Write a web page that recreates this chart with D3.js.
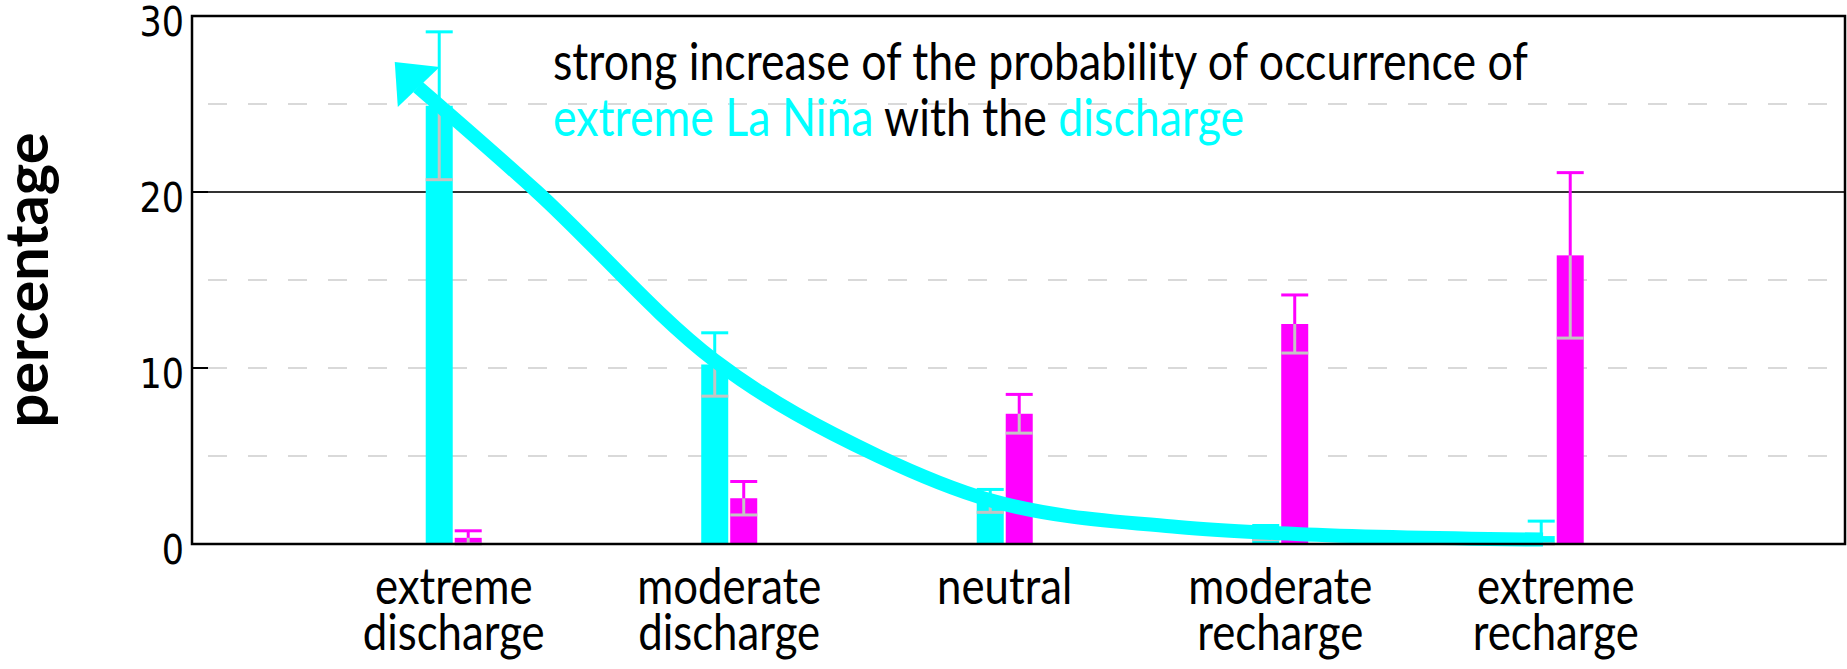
<html>
<head>
  <style>
    body { margin: 0; background: #fff; }
    text { font-family: Lato, "Open Sans", sans-serif; }
  </style>
  <script type="text/javascript" src="https://d3js.org/d3.v7.min.js"></script>
</head>
<body>
<script>
  // categories and values
  var categories = [["extreme", "discharge"], ["moderate", "discharge"], ["neutral"], ["moderate", "recharge"], ["extreme", "recharge"]];
  var laNina = [24.9, 10.2, 2.45, 0.65, 0.45];
  var laNinaErr = [4.2, 1.8, 0.65, 0.4, 0.85];
  var elNino = [0.35, 2.6, 7.4, 12.5, 16.4];
  var elNinoErr = [0.4, 0.95, 1.1, 1.65, 4.7];
  var yTicks = [0, 10, 20, 30];
  var dashedGrid = [5, 10, 15, 25];
  var solidGrid = [20];
  // arrow annotation in (category index, percentage) space
  var arrowShaft = [[-0.13, 25.97], [0.299, 20.06], [0.945, 10.45], [1.54, 5.0], [1.944, 2.5],
                    [2.629, 0.966], [3.057, 0.568], [3.954, 0.25]];
  var arrowHead = [[-0.214, 27.39], [-0.051, 27.1], [-0.203, 24.83]];
  var titleLine1 = "strong increase of the probability of occurrence of";
  var titleLine2 = [["extreme La Niña", "#00ffff"], [" with the ", "#000"], ["discharge", "#00ffff"]];

  var cyan = "#00ffff", magenta = "#ff00ff", errGray = "#c4c4c4";
  var width = 1847, height = 669;
  var plotLeft = 192, plotRight = 1845, plotTop = 16, plotBottom = 544;
  var barW = 27;
  var vs = 1.15;

  var x = d3.scaleLinear().domain([-0.95, 5.05]).range([plotLeft, plotRight]);
  var y = d3.scaleLinear().domain([0, 30]).range([plotBottom, plotTop]);

  var svg = d3.select("body").append("svg")
      .attr("width", width)
      .attr("height", height);

  svg.selectAll(".dash").data(dashedGrid).enter().append("line")
      .attr("x1", plotLeft + 16).attr("x2", plotRight)
      .attr("y1", d => y(d)).attr("y2", d => y(d))
      .attr("stroke", "#d9d9d9").attr("stroke-width", 2)
      .attr("stroke-dasharray", "19,21");

  svg.selectAll(".solid").data(solidGrid).enter().append("line")
      .attr("x1", plotLeft).attr("x2", plotRight)
      .attr("y1", d => y(d)).attr("y2", d => y(d))
      .attr("stroke", "#333").attr("stroke-width", 2);

  svg.selectAll(".ytick").data(yTicks).enter().append("line")
      .attr("x1", plotLeft).attr("x2", plotLeft + 16)
      .attr("y1", d => y(d)).attr("y2", d => y(d))
      .attr("stroke", "#000").attr("stroke-width", 2);

  function series(values, errs, color, dx) {
    var g = svg.append("g");
    g.selectAll("rect").data(values).enter().append("rect")
        .attr("x", (d, i) => x(i) + dx)
        .attr("y", d => y(d))
        .attr("width", barW)
        .attr("height", d => y(0) - y(d))
        .attr("fill", color);
    var eb = g.selectAll(".err").data(values).enter().append("g");
    var lo = (d, i) => y(Math.max(0, d - errs[i]));
    var hi = (d, i) => y(d + errs[i]);
    var mid = (d, i) => x(i) + dx + barW / 2;
    eb.append("line")
        .attr("x1", mid).attr("x2", mid)
        .attr("y1", d => y(d)).attr("y2", lo)
        .attr("stroke", errGray).attr("stroke-width", 3);
    eb.append("line")
        .attr("x1", (d, i) => x(i) + dx).attr("x2", (d, i) => x(i) + dx + barW)
        .attr("y1", lo).attr("y2", lo)
        .attr("stroke", errGray).attr("stroke-width", 3);
    eb.append("line")
        .attr("x1", mid).attr("x2", mid)
        .attr("y1", d => y(d)).attr("y2", hi)
        .attr("stroke", color).attr("stroke-width", 3);
    eb.append("line")
        .attr("x1", (d, i) => x(i) + dx).attr("x2", (d, i) => x(i) + dx + barW)
        .attr("y1", hi).attr("y2", hi)
        .attr("stroke", color).attr("stroke-width", 3);
  }
  series(laNina, laNinaErr, cyan, -28);
  series(elNino, elNinoErr, magenta, 1);

  var line = d3.line()
      .x(d => x(d[0]))
      .y(d => y(d[1]))
      .curve(d3.curveMonotoneX);

  svg.append("path")
      .datum(arrowShaft)
      .attr("d", line)
      .attr("fill", "none")
      .attr("stroke", cyan)
      .attr("stroke-width", 14);

  svg.append("path")
      .attr("d", d3.line().x(d => x(d[0])).y(d => y(d[1]))(arrowHead) + "Z")
      .attr("fill", cyan);

  svg.append("rect")
      .attr("x", plotLeft).attr("y", plotTop)
      .attr("width", plotRight - plotLeft).attr("height", plotBottom - plotTop)
      .attr("fill", "none").attr("stroke", "#000").attr("stroke-width", 2.5);

  // y tick labels
  svg.selectAll(".ylab").data(yTicks).enter().append("text")
      .attr("transform", d => "translate(184," + (y(d) + 20) + ") scale(1,1.18)")
      .attr("text-anchor", "end")
      .style("font-family", "'DejaVu Sans'")
      .attr("font-size", 35)
      .text(d => d);

  function fitSize(sel, target) {
    var w = sel.node().getComputedTextLength();
    var fs = parseFloat(sel.attr("font-size"));
    return fs * target / w;
  }

  // category labels
  var probe = svg.append("text").attr("font-size", 40).text(categories[0][1]);
  var catSize = fitSize(probe, 182);
  probe.remove();
  categories.forEach(function(lines, i) {
    lines.forEach(function(t, j) {
      svg.append("text")
          .attr("transform", "translate(" + x(i) + "," + (604 + j * 46) + ") scale(1," + vs + ")")
          .attr("text-anchor", "middle")
          .attr("font-size", catSize)
          .attr("fill", "#000")
          .text(t);
    });
  });

  // y axis title
  var ytitle = svg.append("text")
      .attr("font-size", 50)
      .attr("font-weight", "bold")
      .attr("text-anchor", "middle")
      .attr("transform", "translate(48,280) rotate(-90)")
      .text("percentage");
  ytitle.attr("font-size", fitSize(ytitle, 295));

  // annotation
  var t1 = svg.append("text").attr("font-size", 40).attr("fill", "#000")
      .attr("transform", "translate(553,80) scale(1," + vs + ")")
      .text(titleLine1);
  var titleSize = fitSize(t1, 975);
  t1.attr("font-size", titleSize);
  var t2 = svg.append("text").attr("font-size", titleSize)
      .attr("transform", "translate(553,136) scale(1," + vs + ")")
      .style("white-space", "pre");
  t2.selectAll("tspan").data(titleLine2).enter().append("tspan")
      .attr("fill", d => d[1])
      .text(d => d[0]);
</script>
</body>
</html>
